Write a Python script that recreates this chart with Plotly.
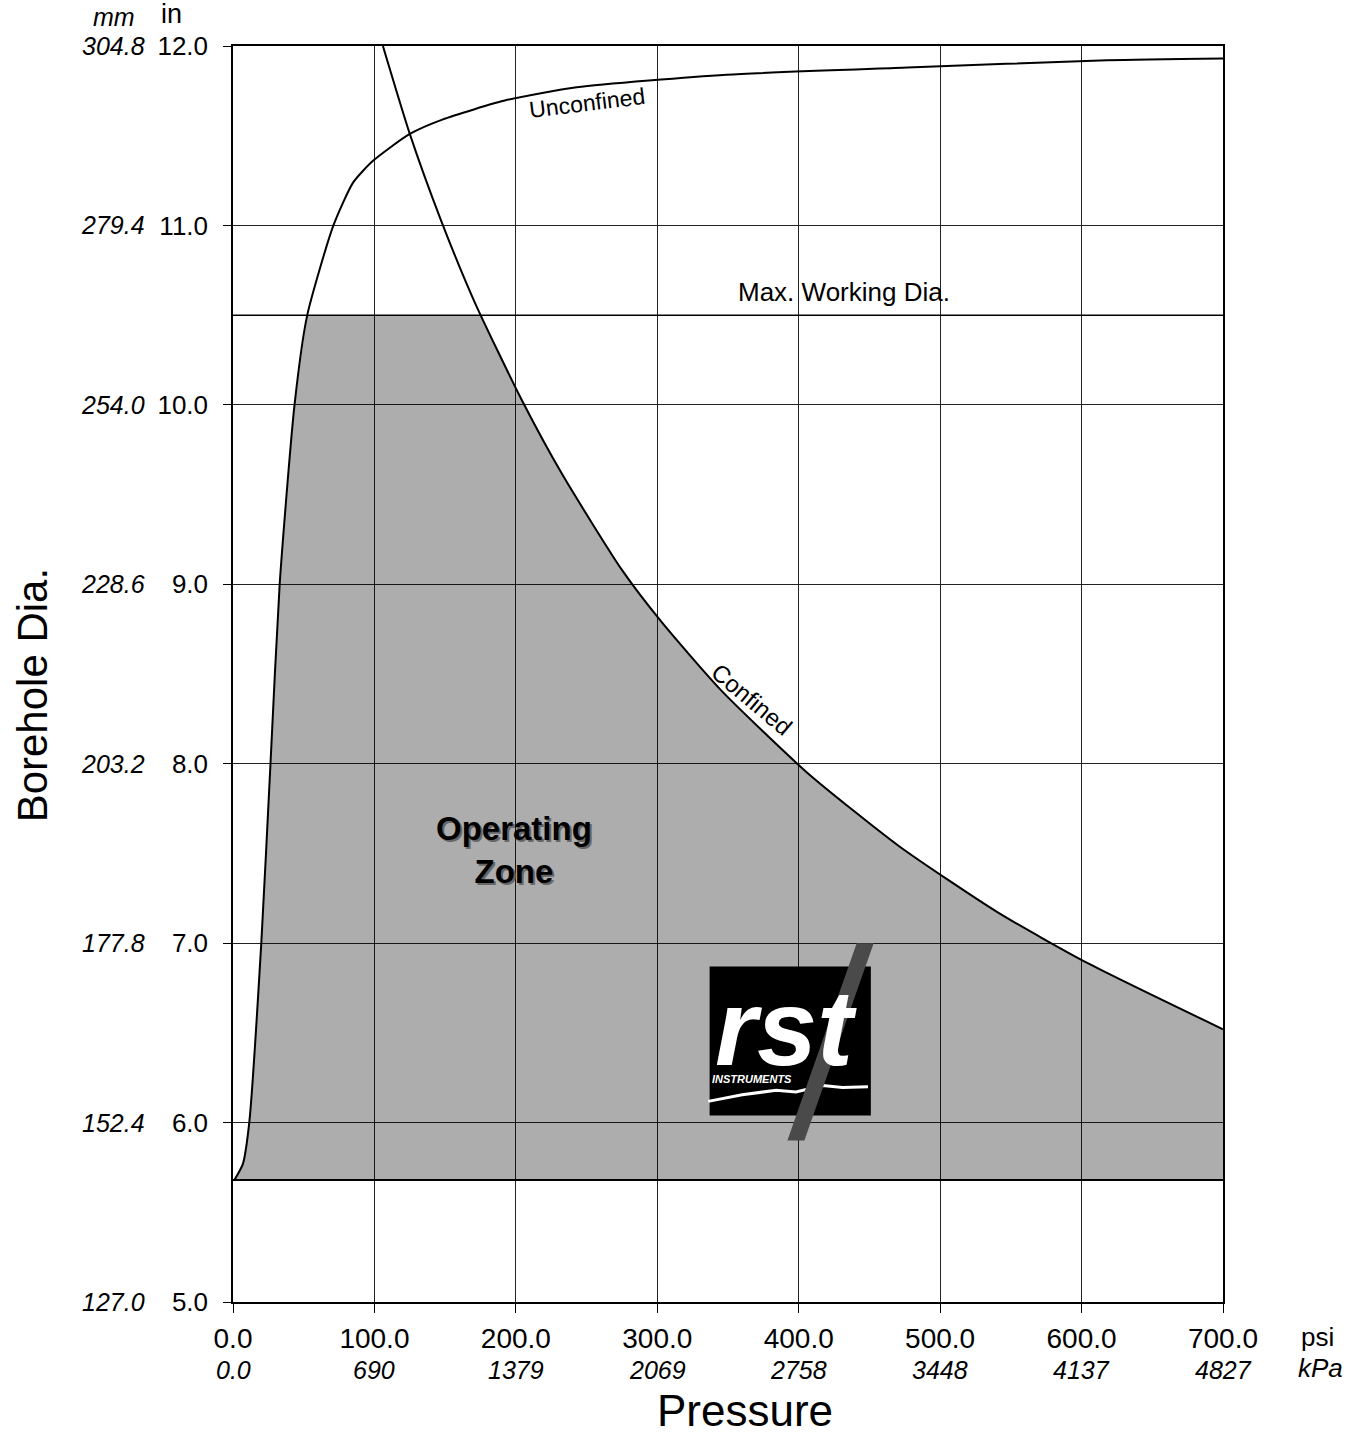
import numpy as np
import plotly.graph_objects as go

# tick values / labels
psi_ticks = [0, 100, 200, 300, 400, 500, 600, 700]
psi_labels = ["0.0", "100.0", "200.0", "300.0", "400.0", "500.0", "600.0", "700.0"]
kpa_labels = ["0.0", "690", "1379", "2069", "2758", "3448", "4137", "4827"]
in_ticks = [5, 6, 7, 8, 9, 10, 11, 12]
in_labels = ["5.0", "6.0", "7.0", "8.0", "9.0", "10.0", "11.0", "12.0"]
mm_labels = ["127.0", "152.4", "177.8", "203.2", "228.6", "254.0", "279.4", "304.8"]

# curves (psi, inches)
unconfined_psi = [1, 7, 11.5, 20, 26.5, 33, 43.5, 52.5, 71, 85, 99, 125, 148, 194, 243, 349, 477, 618, 700]
unconfined_in = [5.68, 5.77, 6.0, 7.0, 8.0, 9.0, 10.0, 10.5, 11.0, 11.24, 11.36, 11.51, 11.59,
                 11.70, 11.77, 11.84, 11.88, 11.92, 11.93]
confined_psi = [106, 125, 147, 171, 204, 233, 275, 303, 345, 406, 471, 541, 604, 700]
confined_in = [12.0, 11.51, 11.03, 10.57, 10.03, 9.61, 9.08, 8.79, 8.41, 7.95, 7.54, 7.17, 6.89, 6.52]
max_working_in = 10.5
zone_floor_in = 5.68

FONT = "Liberation Sans, Arial, sans-serif"
NARROW = "Liberation Sans Narrow, Arial Narrow, Liberation Sans, Arial, sans-serif"

# operating zone polygon from the curves
u_psi, u_in = np.array(unconfined_psi), np.array(unconfined_in)
c_psi, c_in = np.array(confined_psi), np.array(confined_in)
keep_u = u_in <= max_working_in
keep_c = c_in < max_working_in
c_top = float(np.interp(max_working_in, c_in[::-1], c_psi[::-1]))
zone_x = list(u_psi[keep_u]) + [c_top] + list(c_psi[keep_c]) + [c_psi[-1]]
zone_y = list(u_in[keep_u]) + [max_working_in] + list(c_in[keep_c]) + [zone_floor_in]

fig = go.Figure()

fig.add_trace(go.Scatter(
    x=zone_x, y=zone_y, mode="lines", fill="toself",
    fillcolor="rgba(0,0,0,0.32)", line=dict(width=0), hoverinfo="skip"
))

# max working dia. and zone floor lines
fig.add_trace(go.Scatter(x=[0, 700], y=[max_working_in] * 2, mode="lines",
                         line=dict(color="black", width=1.5)))
fig.add_trace(go.Scatter(x=[0, 700], y=[zone_floor_in] * 2, mode="lines",
                         line=dict(color="black", width=1.8)))

fig.add_trace(go.Scatter(x=unconfined_psi, y=unconfined_in, mode="lines",
                         line=dict(color="black", width=2, shape="spline", smoothing=0.6)))
fig.add_trace(go.Scatter(x=confined_psi, y=confined_in, mode="lines",
                         line=dict(color="black", width=2, shape="spline", smoothing=0.6)))

annotations = []
# secondary tick labels
for v, t in zip(in_ticks, mm_labels):
    annotations.append(dict(x=0, xref="paper", y=v, yref="y", text=f"<i>{t}</i>",
                            xanchor="right", yanchor="middle", xshift=-86, showarrow=False,
                            font=dict(size=25, family=FONT, color="black")))
for v, t in zip(psi_ticks, kpa_labels):
    annotations.append(dict(x=v, xref="x", y=0, yref="paper", text=f"<i>{t}</i>",
                            xanchor="center", yanchor="middle", yshift=-68, showarrow=False,
                            font=dict(size=25, family=FONT, color="black")))

annotations += [
    dict(x=0, xref="paper", y=1, yref="paper", text="<i>mm</i>", xanchor="center", yanchor="middle",
         xshift=-119, yshift=29, showarrow=False, font=dict(size=25, family=FONT, color="black")),
    dict(x=0, xref="paper", y=1, yref="paper", text="in", xanchor="center", yanchor="middle",
         xshift=-62, yshift=32, showarrow=False, font=dict(size=27, family=FONT, color="black")),
    dict(x=1, xref="paper", y=0, yref="paper", text="psi", xanchor="center", yanchor="middle",
         xshift=94, yshift=-35, showarrow=False, font=dict(size=26, family=FONT, color="black")),
    dict(x=1, xref="paper", y=0, yref="paper", text="<i>kPa</i>", xanchor="center", yanchor="middle",
         xshift=97, yshift=-66, showarrow=False, font=dict(size=26, family=FONT, color="black")),
    dict(x=0, xref="paper", y=0.483, yref="paper", text="Borehole Dia.", textangle=-90,
         xanchor="center", yanchor="middle", xshift=-201, showarrow=False,
         font=dict(size=42, family=FONT, color="black")),
    dict(x=0.517, xref="paper", y=0, yref="paper", text="Pressure", xanchor="center",
         yanchor="middle", yshift=-108, showarrow=False, font=dict(size=44, family=FONT, color="black")),
    # curve labels
    dict(x=250, y=11.68, text="Unconfined", textangle=-7, showarrow=False,
         font=dict(size=23, family=NARROW, color="black")),
    dict(x=432, y=10.63, text="Max. Working Dia.", showarrow=False,
         font=dict(size=26, family=NARROW, color="black")),
    dict(x=367, y=8.36, text="Confined", textangle=40, showarrow=False,
         font=dict(size=24, family=NARROW, color="black")),
    # operating zone
    dict(x=199, y=7.52, text="<b>Operating<br>Zone</b>", showarrow=False, xshift=2, yshift=-2,
         font=dict(size=33, family=FONT, color="#666666")),
    dict(x=199, y=7.52, text="<b>Operating<br>Zone</b>", showarrow=False,
         font=dict(size=33, family=FONT, color="black")),
    # logo text
    dict(x=391, y=6.53, text="<b><i>rst</i></b>", showarrow=False,
         font=dict(size=108, family=FONT, color="white")),
    dict(x=367, y=6.245, text="<b><i>INSTRUMENTS</i></b>", showarrow=False,
         font=dict(size=11, family=FONT, color="white")),
]

shapes = [
    dict(type="rect", x0=337, x1=451, y0=6.04, y1=6.87, xref="x", yref="y",
         fillcolor="black", line=dict(width=0), layer="above"),
    dict(type="path", path="M 336,6.118 L 360,6.155 L 384,6.18 L 398,6.17 L 417,6.206 L 431,6.195 L 449,6.20",
         line=dict(color="white", width=3), layer="above"),
    dict(type="path", path="M 441,7.0 L 453,7.0 L 404,5.9 L 392,5.9 Z",
         fillcolor="#4a4a4a", line=dict(width=0), layer="above"),
]

fig.update_layout(
    width=1357, height=1447, autosize=False,
    margin=dict(l=233, r=134, t=46, b=145),
    paper_bgcolor="white", plot_bgcolor="white",
    showlegend=False,
    font=dict(family=FONT, color="black"),
    annotations=annotations,
    shapes=shapes,
    xaxis=dict(range=[0, 700], tickvals=psi_ticks, ticktext=psi_labels,
               showgrid=True, gridcolor="#222222", gridwidth=1.2, zeroline=False,
               showline=True, linecolor="black", linewidth=1.5, mirror=True,
               ticks="outside", ticklen=9, tickcolor="black", ticklabelstandoff=2,
               tickfont=dict(size=28, family=FONT, color="black")),
    yaxis=dict(range=[5, 12], tickvals=in_ticks, ticktext=in_labels,
               showgrid=True, gridcolor="#222222", gridwidth=1.2, zeroline=False,
               showline=True, linecolor="black", linewidth=1.5, mirror=True,
               ticks="outside", ticklen=8, tickcolor="black", ticklabelstandoff=10,
               tickfont=dict(size=26, family=FONT, color="black")),
)

fig.write_html("out.html", config={"displayModeBar": False},
               post_script="document.body.style.margin='0';")
